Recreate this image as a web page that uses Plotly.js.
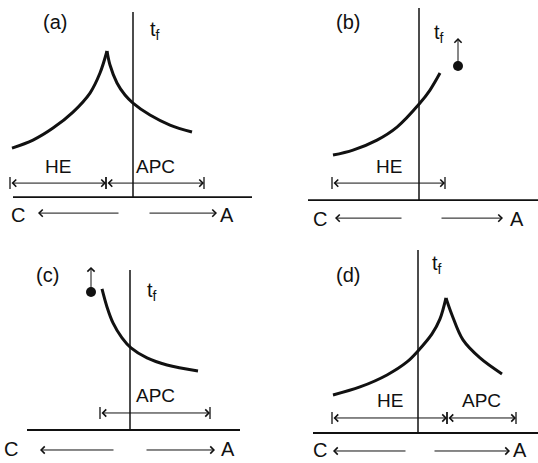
<!DOCTYPE html>
<html>
<head>
<meta charset="utf-8">
<script src="https://cdn.plot.ly/plotly-3.0.1.min.js"></script>
<style>
  html, body { margin: 0; padding: 0; background: #fff; }
  #chart { width: 538px; height: 463px; }
</style>
</head>
<body>
<div id="chart"></div>
<script>
// Position along the C–A direction (0 = t_f line) and temperature above the baseline.
// Panel (a): HE side rises to a cusp, APC side decays.
const aHE_x  = [-121, -100, -80, -60, -43, -33, -26];
const aHE_y  = [49, 57, 69, 85, 104, 124, 146];
const aAPC_x = [-26, -23, -16, -8, 0, 17, 37, 59];
const aAPC_y = [146, 132, 114, 102, 94, 82, 72, 65];
// Panel (b): HE branch only, with the APC value off-scale.
const bHE_x  = [-86, -66, -42, -22, 1, 11, 21];
const bHE_y  = [45, 50, 60, 73, 97, 110, 127];
const bDot_x = [39];
const bDot_y = [134];
// Panel (c): APC branch only, with the HE value off-scale.
const cAPC_x = [-28, -23, -17, -8, 1, 17, 37, 68];
const cAPC_y = [141, 123, 107, 92, 82, 72, 65, 59];
const cDot_x = [-39];
const cDot_y = [138];
// Panel (d): cusp on the A side of the t_f line.
const dHE_x  = [-85, -58, -31, -11, 0, 14, 22, 28];
const dHE_y  = [38, 46, 58, 71, 82, 99, 114, 135];
const dAPC_x = [28, 34, 45, 62, 84];
const dAPC_y = [135, 118, 93, 75, 59];

const panelLabels = ['(a)', '(b)', '(c)', '(d)'];
const heLabel = 'HE';
const apcLabel = 'APC';
const tfLabel = 't<sub>f</sub>';

const INK = '#111';
const FONT = 'Liberation Sans, Arial, sans-serif';

function curve(x, y, ax) {
  return { x, y, xaxis: 'x' + ax, yaxis: 'y' + ax, mode: 'lines', type: 'scatter',
    line: { color: INK, width: 3, shape: 'spline', smoothing: 1 }, hoverinfo: 'skip', showlegend: false };
}
function dot(x, y, ax) {
  return { x, y, xaxis: 'x' + ax, yaxis: 'y' + ax, mode: 'markers', type: 'scatter',
    marker: { color: INK, size: 10 }, hoverinfo: 'skip', showlegend: false };
}

const data = [
  curve(aHE_x, aHE_y, ''), curve(aAPC_x, aAPC_y, ''),
  curve(bHE_x, bHE_y, '2'), dot(bDot_x, bDot_y, '2'),
  curve(cAPC_x, cAPC_y, '3'), dot(cDot_x, cDot_y, '3'),
  curve(dHE_x, dHE_y, '4'), curve(dAPC_x, dAPC_y, '4')
];

const shapes = [];
const annotations = [];

function refs(p) { return { xref: 'x' + p, yref: 'y' + p }; }
function line(p, x0, y0, x1, y1, w) {
  shapes.push(Object.assign({ type: 'line', x0, y0, x1, y1, line: { color: INK, width: w } }, refs(p)));
}
function arrow(p, fromX, fromY, toX, toY, both) {
  annotations.push(Object.assign({
    x: toX, y: toY, ax: fromX, ay: fromY, axref: 'x' + p, ayref: 'y' + p,
    text: '', font: { size: 1 }, showarrow: true, arrowhead: 4, startarrowhead: 4,
    arrowsize: 1.4, startarrowsize: 1.4,
    arrowwidth: 1, arrowcolor: INK, arrowside: both ? 'end+start' : 'end', standoff: 0, startstandoff: 0
  }, refs(p)));
}
function label(p, x, y, text, size) {
  annotations.push(Object.assign({ x, y, text, showarrow: false,
    font: { family: FONT, size: size, color: INK } }, refs(p)));
}
function span(p, x0, x1, y, text) {
  arrow(p, x0, y, x1, y, true);
  line(p, x0, y - 6, x0, y + 6, 1.3);
  line(p, x1, y - 6, x1, y + 6, 1.3);
  if (text) label(p, (x0 + x1) / 2, y + 17, text, 19);
}

// (a)
line('', -120, 0, 119, 0, 1.8);
line('', 0, 0, 0, 185, 1.5);
span('', -123, -27, 14, heLabel);
span('', -27, 71, 14, apcLabel);
arrow('', -13, -16, -95, -16);
arrow('', 15, -16, 84, -16);
label('', -115, -18, 'C', 20);
label('', 94, -18, 'A', 20);
label('', -78, 175, panelLabels[0], 20);
label('', 22, 167, tfLabel, 20);

// (b)
line('2', -111, 0, 119, 0, 1.8);
line('2', 0, 0, 0, 192, 1.5);
span('2', -87, 26, 17, heLabel);
arrow('2', bDot_x[0], bDot_y[0], bDot_x[0], 162);
arrow('2', -16, -18, -84, -18);
arrow('2', 21, -18, 84, -18);
label('2', -99, -19, 'C', 20);
label('2', 98, -19, 'A', 20);
label('2', -71, 178, panelLabels[1], 20);
label('2', 20, 167, tfLabel, 20);

// (c)
line('3', -103, 0, 110, 0, 1.8);
line('3', 0, 0, 0, 160, 1.5);
span('3', -30, 80, 17, apcLabel);
arrow('3', cDot_x[0], cDot_y[0], cDot_x[0], 163);
arrow('3', -15, -20, -90, -20);
arrow('3', 15, -20, 85, -20);
label('3', -119, -19, 'C', 20);
label('3', 98, -19, 'A', 20);
label('3', -83, 155, panelLabels[2], 20);
label('3', 22, 138, tfLabel, 20);

// (d)
line('4', -105, 0, 120, 0, 1.8);
line('4', 0, 0, 0, 183, 1.5);
span('4', -86, 29, 15, heLabel);
span('4', 29, 98, 15, apcLabel);
arrow('4', -11, -18, -85, -18);
arrow('4', 15, -18, 92, -18);
label('4', -98, -17, 'C', 20);
label('4', 102, -17, 'A', 20);
label('4', -70, 158, panelLabels[3], 20);
label('4', 19, 168, tfLabel, 20);

const hidden = { visible: false, fixedrange: true };
const layout = {
  width: 538, height: 463,
  margin: { l: 0, r: 0, t: 0, b: 0, pad: 0 },
  paper_bgcolor: '#fff', plot_bgcolor: 'rgba(0,0,0,0)',
  showlegend: false,
  xaxis:  Object.assign({ domain: [0, 0.5],   range: [-133, 136], anchor: 'y'  }, hidden),
  yaxis:  Object.assign({ domain: [0.503, 1], range: [-33, 197],  anchor: 'x'  }, hidden),
  xaxis2: Object.assign({ domain: [0.5, 1],   range: [-150, 119], anchor: 'y2' }, hidden),
  yaxis2: Object.assign({ domain: [0.503, 1], range: [-30, 200],  anchor: 'x2' }, hidden),
  xaxis3: Object.assign({ domain: [0, 0.5],   range: [-130, 139], anchor: 'y3' }, hidden),
  yaxis3: Object.assign({ domain: [0, 0.497], range: [-33, 197],  anchor: 'x3' }, hidden),
  xaxis4: Object.assign({ domain: [0.5, 1],   range: [-149, 120], anchor: 'y4' }, hidden),
  yaxis4: Object.assign({ domain: [0, 0.497], range: [-30, 200],  anchor: 'x4' }, hidden),
  shapes, annotations
};

Plotly.newPlot('chart', data, layout, { staticPlot: true, displayModeBar: false });
</script>
</body>
</html>
